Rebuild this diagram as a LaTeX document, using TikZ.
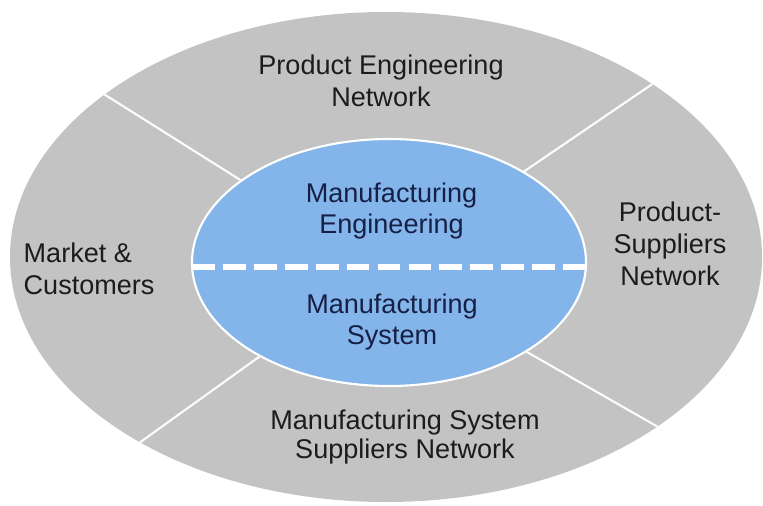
\documentclass[tikz,border=0pt]{standalone}
\usepackage{fontspec}
\setmainfont{Liberation Sans}
\usetikzlibrary{shapes.geometric}
\definecolor{ringgray}{RGB}{195,195,195}
\definecolor{coreblue}{RGB}{132,181,234}
\definecolor{coretext}{RGB}{22,32,70}
\definecolor{ringtext}{RGB}{28,28,28}
\begin{document}
\begin{tikzpicture}[
		txt/.style={inner sep=0pt, align=center, text=ringtext, font=\fontsize{7.7}{9.1}\selectfont},
		coretxt/.style={txt, text=coretext, font=\fontsize{7.7}{8.8}\selectfont},
		ring/.style={ellipse, fill=ringgray, inner sep=0pt, outer sep=0pt},
		core/.style={ellipse, fill=coreblue, draw=white, line width=0.6pt, inner sep=0pt, outer sep=0pt},
		sep/.style={draw=white!95!ringgray, line width=0.6pt},
		divider/.style={draw=white, line width=1.8pt, dash pattern=on 6.5pt off 2.3pt}
	]
			\useasboundingbox (0,0) rectangle (7.63,5.05);
			% outer ring and core
			\node[ring, minimum width=7.52cm, minimum height=4.90cm] (env) at (3.86,2.48) {};
			\node[core, minimum width=3.94cm, minimum height=2.47cm] (mfg) at (3.89,2.425) {};
			\draw[sep] (mfg.151) -- (env.150);
			\draw[sep] (mfg.34) -- (env.33);
			\draw[sep] (mfg.216) -- (env.217);
			\draw[sep] (mfg.327) -- (env.328);
			\draw[divider] ([yshift=-0.45mm]mfg.west) -- ([yshift=-0.45mm]mfg.east);
			% labels
			\node[txt] (pen) at (3.81,4.24) {Product Engineering\\Network};
			\node[txt] (psn) at (6.70,2.615) {Product-\\Suppliers\\Network};
			\node[txt, font=\fontsize{7.7}{8.5}\selectfont] (msn) at (4.05,0.68) {Manufacturing System\\Suppliers Network};
			\node[txt, align=left, anchor=west] (mc) at (0.23,2.365) {Market \&\\Customers};
			\node[coretxt] (me) at (3.915,2.94) {Manufacturing\\Engineering};
			\node[coretxt] (ms) at (3.92,1.83) {Manufacturing\\System};
		\end{tikzpicture}
\end{document}
